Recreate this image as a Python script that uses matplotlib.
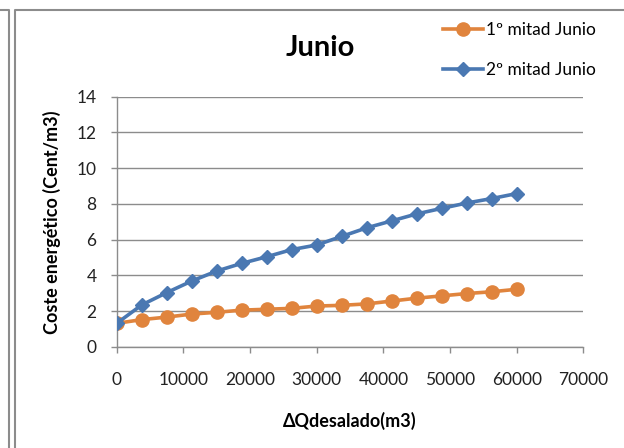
import numpy as np
import matplotlib
matplotlib.use("Agg")
import matplotlib.pyplot as plt
from matplotlib.lines import Line2D

plt.rcParams['font.family'] = ['Lato', 'DejaVu Sans']

# datos
caudal = [0, 3750, 7500, 11250, 15000, 18750, 22500, 26250, 30000,
          33750, 37500, 41250, 45000, 48750, 52500, 56250, 60000]
mitad1 = [1.31, 1.52, 1.66, 1.83, 1.93, 2.05, 2.10, 2.15, 2.28,
          2.32, 2.40, 2.56, 2.72, 2.85, 2.98, 3.08, 3.22]
mitad2 = [1.31, 2.34, 3.03, 3.68, 4.24, 4.67, 5.04, 5.44, 5.70,
          6.18, 6.66, 7.05, 7.44, 7.75, 8.05, 8.30, 8.58]
etiquetas = ["1º mitad Junio", "2º mitad Junio"]

naranja = "#E0843D"
azul = "#4A78B2"
gris = "#8C8C8C"

fig = plt.figure(figsize=(6.24, 4.48), dpi=100)
ax = fig.add_axes([0.187, 0.226, 0.748, 0.558])

ax.plot(caudal, mitad1, color=naranja, linewidth=2.6, marker="o",
        markersize=9.5, label=etiquetas[0], zorder=3)
ax.plot(caudal, mitad2, color=azul, linewidth=2.6, marker="D",
        markersize=7.5, label=etiquetas[1], zorder=4)

ax.set_xlim(0, 70000)
ax.set_ylim(0, 14)
ax.set_xticks(np.arange(0, 70001, 10000))
ax.set_yticks(np.arange(0, 15, 2))
ax.yaxis.grid(True, color=gris, linewidth=1.0)
ax.set_axisbelow(True)
for s in ["top", "right"]:
    ax.spines[s].set_visible(False)
for s in ["left", "bottom"]:
    ax.spines[s].set_color(gris)
    ax.spines[s].set_linewidth(1.0)
ax.tick_params(colors=gris, labelcolor="#222222", labelsize=12.5,
               length=4.5, width=1.0)
ax.tick_params(axis="x", pad=14)
ax.tick_params(axis="y", pad=10)

ax.set_xlabel("ΔQdesalado(m3)", fontsize=13, fontweight="bold", labelpad=17)
ax.set_ylabel("Coste energético (Cent/m3)", fontsize=13, fontweight="bold", labelpad=11)

fig.text(0.513, 0.893, "Junio", fontsize=21, fontweight="bold",
         ha="center", va="center")

fig.legend(loc="upper left", bbox_to_anchor=(0.71, 0.95), frameon=False,
           fontsize=12.5, handlelength=2.3, handletextpad=0.2,
           labelspacing=1.35, borderpad=0, borderaxespad=0)

# marco del grafico
fig.add_artist(Line2D([15.5 / 624, 15.5 / 624, 1.0], [0, 1 - 10 / 448, 1 - 10 / 448],
                      color=gris, linewidth=1.5, transform=fig.transFigure))
fig.add_artist(Line2D([0, 8.5 / 624, 8.5 / 624], [1 - 10 / 448, 1 - 10 / 448, 0],
                      color=gris, linewidth=1.5, transform=fig.transFigure))

fig.savefig("out.png", dpi=100)
